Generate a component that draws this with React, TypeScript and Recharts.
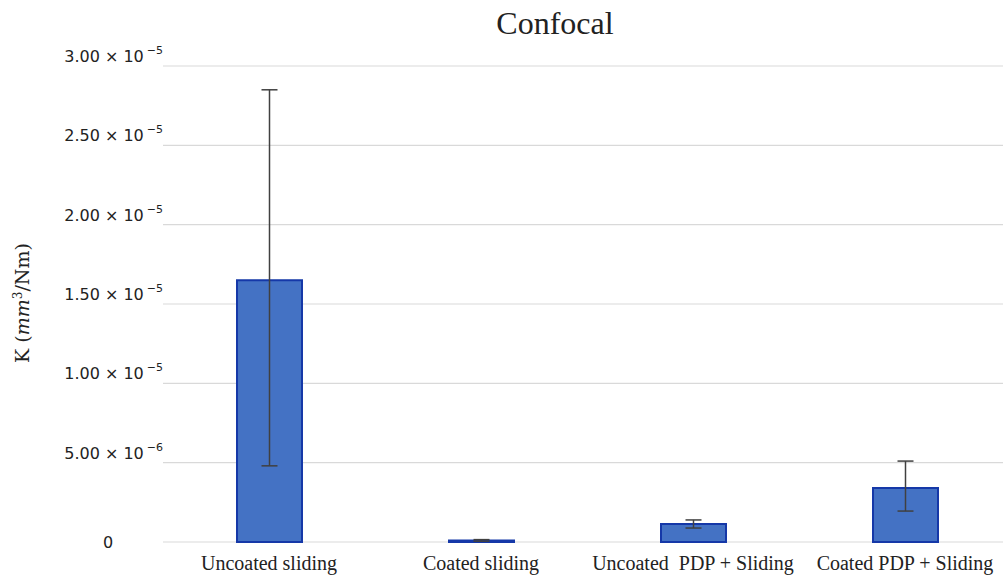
import { BarChart, Bar, XAxis, YAxis, CartesianGrid, ErrorBar } from "recharts";

// sample names
const categories = ["Uncoated sliding", "Coated sliding", "Uncoated  PDP + Sliding", "Coated PDP + Sliding"];
// wear rate K (mm3/Nm)
const kValues = [1.65e-5, 1.0e-7, 1.13e-6, 3.4e-6];
// error bars [below, above]
const kErrors: [number, number][] = [
    [1.17e-5, 1.2e-5],
    [0.5e-7, 0.5e-7],
    [0.25e-6, 0.26e-6],
    [1.45e-6, 1.7e-6],
];
const yTicks = [0, 5e-6, 1e-5, 1.5e-5, 2e-5, 2.5e-5, 3e-5];

const data = categories.map((name, i) => ({ name, k: kValues[i], err: kErrors[i] }));

function YTick({ y, payload }: any) {
    const v = payload.value;
    if (v === 0) {
        return (
            <text x={108} y={y + 6} textAnchor="middle" fontSize={16} fill="#222" fontFamily="DejaVu Sans">0</text>
        );
    }
    const exp = Math.floor(Math.log10(v) + 1e-9);
    const mant = (v / Math.pow(10, exp)).toFixed(2);
    return (
        <text x={163} y={y - 4} textAnchor="end" fontSize={16} fill="#222" fontFamily="DejaVu Sans">
            {mant} × 10
            <tspan dx={3} dy={-8} fontSize={11}>{"\u2212" + Math.abs(exp)}</tspan>
        </text>
    );
}

function XTick({ x, y, payload }: any) {
    return (
        <text x={x} y={570} textAnchor="middle" fontSize={20} fill="#222" fontFamily="Liberation Serif" style={{ whiteSpace: "pre" }}>
            {payload.value}
        </text>
    );
}

export default function App() {
    return (
        <div style={{ position: "absolute", left: 0, top: 0, width: 1003, height: 578, overflow: "hidden", background: "#fff" }}>
            <div style={{ position: "absolute", left: 0, top: 5, width: 1110, textAlign: "center", fontFamily: "Liberation Serif", fontSize: 32, color: "#222" }}>
                Confocal
            </div>
            <div
                style={{
                    position: "absolute", left: 22, top: 303, transform: "translate(-50%, -50%) rotate(-90deg)",
                    whiteSpace: "nowrap", fontFamily: "DejaVu Serif", fontSize: 19, color: "#222"
                }}
            >
                K (<i>mm</i><sup style={{ fontSize: 12 }}>3</sup>/Nm)
            </div>
            <BarChart width={1011} height={578} data={data} margin={{ top: 66, right: 0, left: 0, bottom: 0 }}>
                <CartesianGrid vertical={false} stroke="#d9d9d9" strokeWidth={1.2} />
                <XAxis dataKey="name" axisLine={false} tickLine={false} height={36} tick={<XTick />} interval={0} />
                <YAxis
                    domain={[0, 3e-5]}
                    ticks={yTicks}
                    width={163}
                    axisLine={false}
                    tickLine={false}
                    tick={<YTick />}
                    interval={0}
                />
                <Bar dataKey="k" fill="#4472C4" stroke="#1538a8" strokeWidth={2} barSize={65} isAnimationActive={false}>
                    <ErrorBar dataKey="err" width={8} stroke="#404040" strokeWidth={1.5} isAnimationActive={false} />
                </Bar>
            </BarChart>
        </div>
    );
}
